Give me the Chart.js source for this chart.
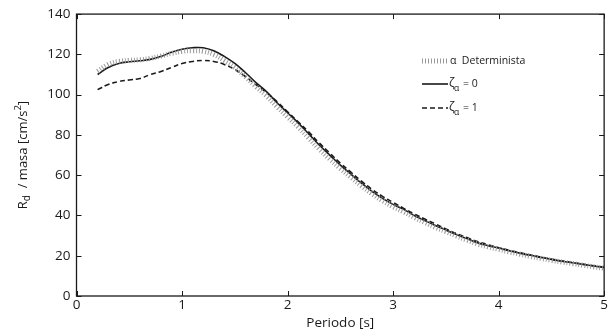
<!DOCTYPE html>
<html lang="es">
<head>
<meta charset="UTF-8">
<title>Espectro Rd / masa</title>
<script src="https://cdn.jsdelivr.net/npm/chart.js"></script>
<style>
  html, body { margin: 0; padding: 0; background: #fff; }
  #wrap { width: 609px; height: 335px; }
</style>
</head>
<body>
<div id="wrap"><canvas id="myChart"></canvas></div>
<script>
// periodos [s]
const periodos = [0.2, 0.3, 0.4, 0.5, 0.6, 0.7, 0.8, 0.9, 1.0, 1.1, 1.2, 1.3, 1.4, 1.5, 1.6, 1.7, 1.8, 1.9,
  2.0, 2.1, 2.2, 2.3, 2.4, 2.5, 2.6, 2.7, 2.8, 2.9, 3.0, 3.1, 3.2, 3.3, 3.4, 3.5, 3.6, 3.7, 3.8, 3.9,
  4.0, 4.1, 4.2, 4.3, 4.4, 4.5, 4.6, 4.7, 4.8, 4.9, 5.0];

// alpha determinista
const determinista = [111.5, 115, 116.5, 117, 117.3, 118, 119.2, 120.5, 121.5, 121.8, 121.5, 120, 117, 113.5,
  109, 104, 99.5, 94, 89, 84, 78.5, 73, 68, 63.3, 59, 54.7, 50.8, 47.3, 44.3, 41.8, 39, 36.5, 34.1, 32,
  29.8, 27.8, 25.9, 24.4, 23.2, 21.9, 20.8, 19.7, 18.7, 17.7, 16.9, 16.1, 15.3, 14.5, 13.8];

// zeta_alpha = 0
const zeta0 = [110, 113.5, 115.5, 116.3, 116.8, 117.5, 119, 121, 122.5, 123.3, 123.3, 121.8, 119, 115.5,
  111, 106, 101.5, 96, 91, 86, 80.5, 75, 70, 65, 60.5, 56, 52, 48.5, 45.5, 43, 40, 37.5, 35, 32.8,
  30.5, 28.5, 26.5, 25, 23.8, 22.5, 21.3, 20.2, 19.2, 18.2, 17.3, 16.5, 15.7, 14.9, 14.2];

// zeta_alpha = 1
const zeta1 = [102.5, 105, 106.5, 107.3, 108, 110, 111.5, 113.5, 115.5, 116.5, 117, 116.5, 115, 112.5,
  109, 105, 101, 96.5, 91.5, 86.5, 81.5, 76, 71, 66, 61.5, 57, 53, 49.5, 46.5, 43.5, 40.8, 38.2, 35.8,
  33.3, 31, 29, 27, 25.5, 24, 22.7, 21.5, 20.4, 19.3, 18.3, 17.4, 16.6, 15.8, 15, 14.3];

const xTicks = [0, 1, 2, 3, 4, 5];
const yTicks = [0, 20, 40, 60, 80, 100, 120, 140];

const FONT = '"Open Sans", "DejaVu Sans", sans-serif';

function pts(ys) {
  return periodos.map((x, i) => ({ x: x, y: ys[i] }));
}

// marco tipo matlab con marcas hacia dentro, leyenda y titulo del eje y
const framePlugin = {
  id: 'framePlugin',
  afterDraw(chart) {
    const { ctx, chartArea: a, scales } = chart;
    const xs = scales.x, ys = scales.y;
    ctx.save();
    ctx.strokeStyle = '#1a1a1a';
    ctx.lineWidth = 1.3;
    ctx.strokeRect(a.left, a.top, a.right - a.left, a.bottom - a.top);
    ctx.lineWidth = 1;
    xTicks.forEach(v => {
      const px = Math.round(xs.getPixelForValue(v)) + 0.5;
      ctx.beginPath();
      ctx.moveTo(px, a.bottom); ctx.lineTo(px, a.bottom - 5);
      ctx.moveTo(px, a.top); ctx.lineTo(px, a.top + 5);
      ctx.stroke();
    });
    yTicks.forEach(v => {
      const py = Math.round(ys.getPixelForValue(v)) + 0.5;
      ctx.beginPath();
      ctx.moveTo(a.left, py); ctx.lineTo(a.left + 5, py);
      ctx.moveTo(a.right, py); ctx.lineTo(a.right - 5, py);
      ctx.stroke();
    });

    // leyenda
    const lx = 422, lw = 26;
    ctx.fillStyle = '#1a1a1a';
    ctx.textBaseline = 'middle';
    // determinista
    ctx.strokeStyle = '#9a9a9a';
    ctx.lineWidth = 5;
    ctx.setLineDash([1, 2]);
    ctx.beginPath(); ctx.moveTo(lx, 61); ctx.lineTo(lx + lw, 61); ctx.stroke();
    ctx.font = '10.5px ' + FONT;
    ctx.fillText('\u03b1  Determinista', lx + 28, 61);
    // zeta 0
    ctx.strokeStyle = '#1a1a1a';
    ctx.lineWidth = 1.6;
    ctx.setLineDash([]);
    ctx.beginPath(); ctx.moveTo(lx, 84); ctx.lineTo(lx + lw, 84); ctx.stroke();
    // zeta 1
    ctx.setLineDash([5, 3]);
    ctx.beginPath(); ctx.moveTo(lx, 108); ctx.lineTo(lx + lw, 108); ctx.stroke();
    ctx.setLineDash([]);
    [[84, '= 0'], [108, '= 1']].forEach(([y, t]) => {
      ctx.font = '12px ' + FONT;
      ctx.fillText('\u03b6', lx + 27, y);
      ctx.font = '8.5px ' + FONT;
      ctx.fillText('\u03b1', lx + 32, y + 5);
      ctx.font = '10.5px ' + FONT;
      ctx.fillText(t, lx + 41, y);
    });

    // titulo eje y: R_d / masa [cm/s^2]
    ctx.translate(23, (a.top + a.bottom) / 2);
    ctx.rotate(-Math.PI / 2);
    const parts = [
      { t: 'R', f: 13, dy: 0 },
      { t: 'd', f: 10, dy: 4 },
      { t: '  / masa [cm/s', f: 13, dy: 0 },
      { t: '2', f: 9.5, dy: -5 },
      { t: ']', f: 13, dy: 0 }
    ];
    let total = 0;
    parts.forEach(p => { ctx.font = p.f + 'px ' + FONT; total += ctx.measureText(p.t).width; });
    let cx = -total / 2;
    ctx.textBaseline = 'middle';
    parts.forEach(p => {
      ctx.font = p.f + 'px ' + FONT;
      ctx.fillText(p.t, cx, p.dy);
      cx += ctx.measureText(p.t).width;
    });
    ctx.restore();
  }
};

Chart.register(framePlugin);

new Chart(document.getElementById('myChart'), {
  type: 'line',
  data: {
    datasets: [
      {
        label: '\u03b1 Determinista',
        data: pts(determinista),
        borderColor: '#9a9a9a',
        borderWidth: 5,
        borderDash: [1, 2],
        pointRadius: 0,
        tension: 0.4,
        fill: false
      },
      {
        label: '\u03b6\u03b1 = 0',
        data: pts(zeta0),
        borderColor: '#1a1a1a',
        borderWidth: 1.6,
        pointRadius: 0,
        tension: 0.4,
        fill: false
      },
      {
        label: '\u03b6\u03b1 = 1',
        data: pts(zeta1),
        borderColor: '#1a1a1a',
        borderWidth: 1.6,
        borderDash: [5, 3],
        pointRadius: 0,
        tension: 0.4,
        fill: false
      }
    ]
  },
  options: {
    responsive: true,
    maintainAspectRatio: false,
    animation: false,
    layout: { padding: { top: 13, right: 1.5, left: 0, bottom: 0 } },
    plugins: {
      legend: { display: false },
      tooltip: { enabled: false }
    },
    scales: {
      x: {
        type: 'linear',
        min: 0, max: 5,
        grid: { display: false, drawTicks: false },
        border: { display: false },
        afterBuildTicks: s => { s.ticks = xTicks.map(v => ({ value: v })); },
        afterFit: s => { s.height = 39; },
        ticks: { color: '#1a1a1a', padding: 1, font: { size: 13.5, family: FONT }, maxRotation: 0 },
        title: { display: true, text: 'Periodo [s]', color: '#1a1a1a', padding: { top: -3 }, font: { size: 13.5, family: FONT } }
      },
      y: {
        min: 0, max: 140,
        grid: { display: false, drawTicks: false },
        border: { display: false },
        afterBuildTicks: s => { s.ticks = yTicks.map(v => ({ value: v })); },
        afterFit: s => { s.width = 76.5; },
        ticks: { color: '#1a1a1a', padding: 6, font: { size: 13.5, family: FONT } }
      }
    }
  }
});
</script>
</body>
</html>
